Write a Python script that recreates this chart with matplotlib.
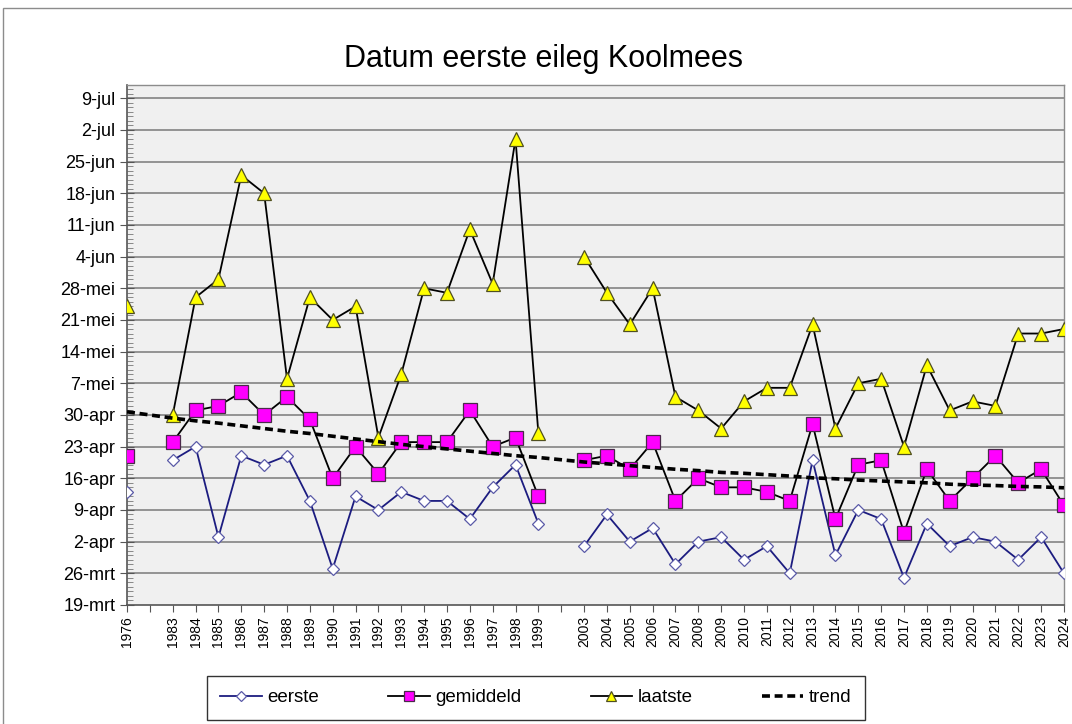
"""
Datum eerste eileg Koolmees - eerste, gemiddelde en laatste legdatum per jaar.
"""

import numpy as np
import matplotlib.pyplot as plt
from matplotlib.patches import Rectangle

plt.rcParams['font.family'] = ['Liberation Sans', 'DejaVu Sans']

# Years on a category axis; empty slots mark the missing years
years = ['1976', '', '1983', '1984', '1985', '1986', '1987', '1988', '1989',
         '1990', '1991', '1992', '1993', '1994', '1995', '1996', '1997',
         '1998', '1999', '', '2003', '2004', '2005', '2006', '2007', '2008',
         '2009', '2010', '2011', '2012', '2013', '2014', '2015', '2016',
         '2017', '2018', '2019', '2020', '2021', '2022', '2023', '2024']

# Dates as number of days after 19 March
nan = np.nan
eerste = [25, nan, 32, 35, 15, 33, 31, 33, 23, 8, 24, 21, 25, 23, 23, 19, 26,
          31, 18, nan, 13, 20, 14, 17, 9, 14, 15, 10, 13, 7, 32, 11, 21, 19,
          6, 18, 13, 15, 14, 10, 15, 7]
gemiddeld = [33, nan, 36, 43, 44, 47, 42, 46, 41, 28, 35, 29, 36, 36, 36, 43,
             35, 37, 24, nan, 32, 33, 30, 36, 23, 28, 26, 26, 25, 23, 40, 19,
             31, 32, 16, 30, 23, 28, 33, 27, 30, 22]
laatste = [66, nan, 42, 68, 72, 95, 91, 50, 68, 63, 66, 37, 51, 70, 69, 83,
           71, 103, 38, nan, 77, 69, 62, 70, 46, 43, 39, 45, 48, 48, 62, 39,
           49, 50, 35, 53, 43, 45, 44, 60, 60, 61]
trend = [42.7, 42.0, 41.3, 40.7, 40.2, 39.6, 39.0, 38.4, 37.9, 37.3, 36.7,
         36.1, 35.5, 35.0, 34.5, 34.0, 33.5, 33.0, 32.6, 32.1, 31.6, 31.2,
         30.8, 30.4, 30.0, 29.7, 29.3, 29.1, 28.8, 28.5, 28.1, 27.9, 27.6,
         27.4, 27.2, 27.0, 26.7, 26.5, 26.4, 26.2, 26.1, 25.9]

week_days = list(range(0, 113, 7))
week_labels = ['19-mrt', '26-mrt', '2-apr', '9-apr', '16-apr', '23-apr',
               '30-apr', '7-mei', '14-mei', '21-mei', '28-mei', '4-jun',
               '11-jun', '18-jun', '25-jun', '2-jul', '9-jul']

x = np.arange(len(years))

fig = plt.figure(figsize=(10.72, 7.24), dpi=100)
ax = fig.add_axes([0.1185, 0.1644, 0.874, 0.7186])
ax.set_facecolor('#f0f0f0')

# outer chart border
fig.patches.append(Rectangle((0.003, -0.01), 1.01, 0.999, transform=fig.transFigure,
                             fill=False, edgecolor='#8c8c8c', linewidth=1.0))

for d in week_days[1:]:
    ax.axhline(d, color='#7a7a7a', linewidth=1.1, zorder=1)

ax.plot(x, eerste, color='#1c1c80', linewidth=1.3, marker='D', markersize=6.5,
        markerfacecolor='white', markeredgecolor='#5a5aa8', markeredgewidth=0.9,
        label='eerste', zorder=4)
ax.plot(x, gemiddeld, color='black', linewidth=1.3, marker='s', markersize=10,
        markerfacecolor='#ff00ff', markeredgecolor='#4a2a4a', markeredgewidth=0.9,
        label='gemiddeld', zorder=4)
ax.plot(x, laatste, color='black', linewidth=1.3, marker='^', markersize=10,
        markerfacecolor='#ffff00', markeredgecolor='#505020', markeredgewidth=0.9,
        label='laatste', zorder=4)
ax.plot(x, trend, color='black', linewidth=2.6, linestyle=(0, (2.2, 1.3)),
        label='trend', zorder=5)

ax.set_xlim(0, len(years) - 1)
ax.set_ylim(0, 115)

ax.set_xticks(x)
ax.set_xticklabels(years, rotation=90, fontsize=10)
ax.tick_params(axis='x', direction='out', length=5, color='#555555', pad=3)

ax.set_yticks(week_days)
ax.set_yticklabels(week_labels, fontsize=13)
ax.set_yticks(np.arange(0, 116, 1), minor=True)
ax.tick_params(axis='y', which='major', direction='inout', length=10, color='#555555')
ax.tick_params(axis='y', which='minor', direction='in', length=4, color='#777777')

for side in ['left', 'bottom']:
    ax.spines[side].set_color('#555555')
    ax.spines[side].set_linewidth(1.2)
for side in ['top', 'right']:
    ax.spines[side].set_color('#8c8c8c')
    ax.spines[side].set_linewidth(1.0)

fig.text(0.507, 0.919, 'Datum eerste eileg Koolmees', ha='center', va='center',
         fontsize=22)

leg = fig.legend(loc='center', bbox_to_anchor=(0.5, 0.036), ncol=4,
                 fontsize=13.5, frameon=True, fancybox=False, handlelength=2.2,
                 columnspacing=3.7, handletextpad=0.3, borderpad=0.7,
                 borderaxespad=0.0, markerscale=0.75)
leg.get_frame().set_edgecolor('black')
leg.get_frame().set_linewidth(1.0)

plt.savefig('out.png', dpi=100)
